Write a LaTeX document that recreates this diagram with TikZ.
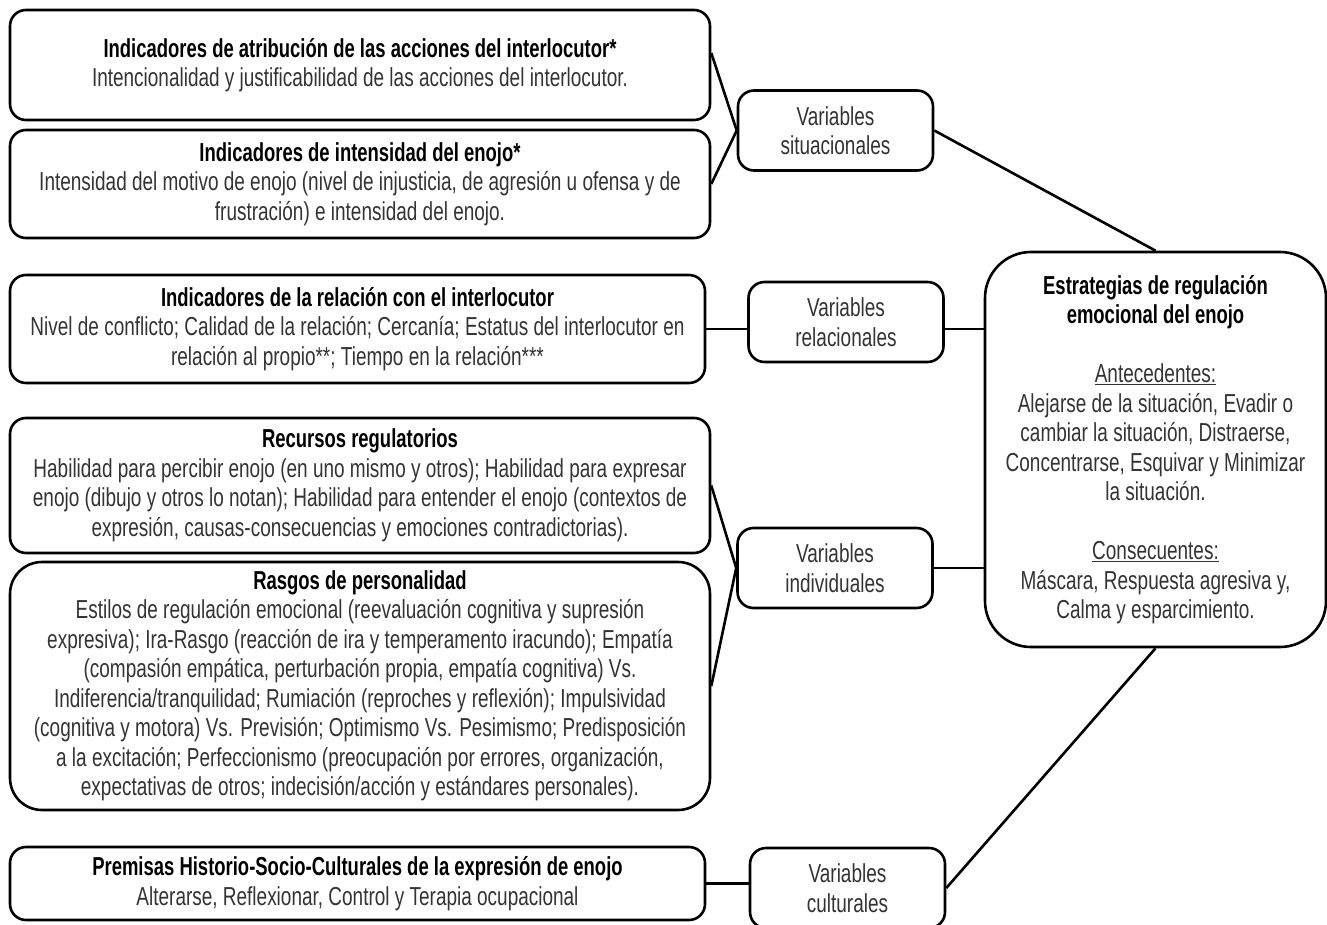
\documentclass[tikz,border=0pt]{standalone}
\usepackage{fontspec}
\setmainfont[FakeStretch=0.73, BoldFeatures={FakeStretch=0.71}]{Liberation Sans}
\newcommand\dgfont{\fontsize{26}{29.5}\selectfont}
\newcommand\boxhead[1]{{\color{black}\bfseries #1}}
\begin{document}
\begin{tikzpicture}[x=1pt,y=-1pt,
  box/.style={draw, line width=2.6pt, rounded corners=16pt, align=center,
    inner sep=0pt, font=\dgfont, text=black!80},
  varbox/.style={box, minimum width=195pt, minimum height=80pt},
  link/.style={line width=2.6pt}]
\useasboundingbox (0,0) rectangle (1327,925);

% factor boxes on the left
\node[box, minimum width=700pt, minimum height=110pt] (b1) at (360,65)
  {\boxhead{Indicadores de atribución de las acciones del interlocutor*}\\
   Intencionalidad y justificabilidad de las acciones del interlocutor.};
\node[box, minimum width=700pt, minimum height=108pt] (b2) at (360,184)
  {\boxhead{Indicadores de intensidad del enojo*}\\
   Intensidad del motivo de enojo (nivel de injusticia, de agresión u ofensa y de\\
   frustración) e intensidad del enojo.};
\node[box, minimum width=695pt, minimum height=108pt] (b3) at (357.5,329)
  {\boxhead{Indicadores de la relación con el interlocutor}\\
   Nivel de conflicto; Calidad de la relación; Cercanía; Estatus del interlocutor en\\
   relación al propio**; Tiempo en la relación***};
\node[box, minimum width=700pt, minimum height=135pt] (b4) at (360,485.5)
  {\boxhead{Recursos regulatorios}\\
   Habilidad para percibir enojo (en uno mismo y otros); Habilidad para expresar\\
   enojo (dibujo y otros lo notan); Habilidad para entender el enojo (contextos de\\
   expresión, causas-consecuencias y emociones contradictorias).};
\node[box, rounded corners=32pt, minimum width=700pt, minimum height=248pt] (b5) at (360,686)
  {\boxhead{Rasgos de personalidad}\\
   Estilos de regulación emocional (reevaluación cognitiva y supresión\\
   expresiva); Ira-Rasgo (reacción de ira y temperamento iracundo); Empatía\\
   (compasión empática, perturbación propia, empatía cognitiva) Vs.\\
   Indiferencia/tranquilidad; Rumiación (reproches y reflexión); Impulsividad\\
   (cognitiva y motora) Vs. Previsión; Optimismo Vs. Pesimismo; Predisposición\\
   a la excitación; Perfeccionismo (preocupación por errores, organización,\\
   expectativas de otros; indecisión/acción y estándares personales).};
\node[box, minimum width=695pt, minimum height=73pt] (b6) at (357.5,883.5)
  {\boxhead{Premisas Historio-Socio-Culturales de la expresión de enojo}\\
   Alterarse, Reflexionar, Control y Terapia ocupacional};

% variable groups
\node[varbox] (sit) at (835.5,130.5) {Variables\\situacionales};
\node[varbox] (rel) at (846,322) {Variables\\relacionales};
\node[varbox] (ind) at (835,568) {Variables\\individuales};
\node[varbox] (cul) at (847.5,888) {Variables\\culturales};

% outcome box
\node[box, rounded corners=46pt, minimum width=341pt, minimum height=395pt] (est) at (1155.5,449.5)
  {\boxhead{Estrategias de regulación}\\
   \boxhead{emocional del enojo}\\[29.5pt]
   \underline{Antecedentes:}\\
   Alejarse de la situación, Evadir o\\
   cambiar la situación, Distraerse,\\
   Concentrarse, Esquivar y Minimizar\\
   la situación.\\[29.5pt]
   \underline{Consecuentes:}\\
   Máscara, Respuesta agresiva y,\\
   Calma y esparcimiento.};

% connectors
\draw[link] ([yshift=12pt]b1.east) -- (sit.west);
\draw[link] (b2.east) -- (sit.west);
\draw[link] (sit.east) -- (est.north);
\draw[link] (b3.east) -- (b3.east -| rel.west);
\draw[link] (b3.east -| rel.east) -- (b3.east -| est.west);
\draw[link] (b4.east) -- (ind.west);
\draw[link] (b5.east) -- (ind.west);
\draw[link] (ind.east) -- (ind.east -| est.west);
\draw[link] (b6.east) -- (b6.east -| cul.west);
\draw[link] (cul.east) -- (est.south);
\end{tikzpicture}
\end{document}
